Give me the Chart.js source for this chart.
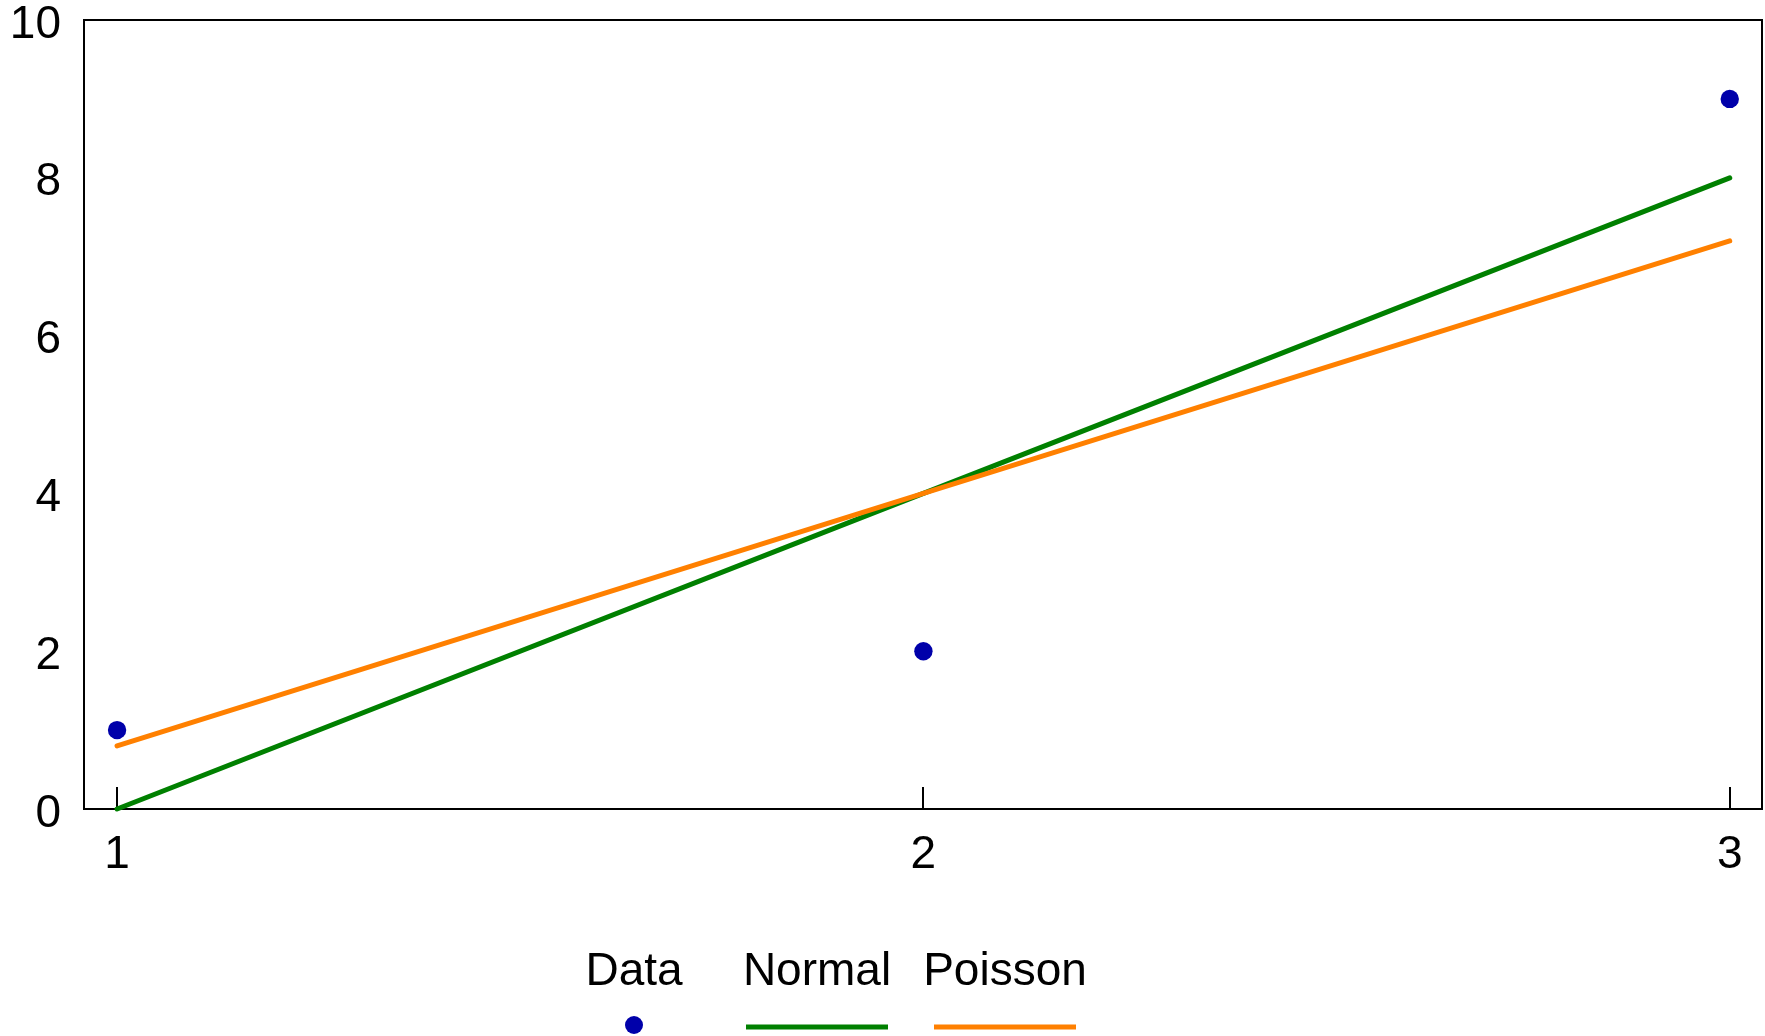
<!DOCTYPE html>
<html>
<head>
<meta charset="utf-8">
<script src="https://cdn.jsdelivr.net/npm/chart.js@4.4.1/dist/chart.umd.min.js"></script>
<style>
html, body { margin: 0; padding: 0; background: #fff; }
</style>
</head>
<body>
<canvas id="chart" width="1765" height="1036"></canvas>
<script>
const xValues = [1, 2, 3];
const dataY = [1, 2, 9];
const normalY = [0, 4, 8];
const poissonY = [0.8, 4, 7.2];
const xTicks = [1, 2, 3];
const yTicks = [0, 2, 4, 6, 8, 10];
const seriesNames = ["Data", "Normal", "Poisson"];
const seriesColors = ["#0000aa", "#008000", "#ff8000"];

const FONT_FAMILY = '"Liberation Sans", Arial, sans-serif';
const legendCenters = [634, 817, 1005];

function toPoints(ys) {
    return xValues.map((x, i) => ({ x: x, y: ys[i] }));
}

// box round the plot area and the inward x tick marks
const frame = {
    id: 'frame',
    beforeDatasetsDraw(chart) {
        const { ctx, chartArea: a } = chart;
        const xs = chart.scales.x;
        ctx.save();
        ctx.strokeStyle = '#000';
        ctx.lineWidth = 2;
        ctx.strokeRect(a.left, a.top, a.right - a.left, a.bottom - a.top);
        ctx.beginPath();
        xs.ticks.forEach(t => {
            const px = Math.round(xs.getPixelForValue(t.value));
            ctx.moveTo(px, a.bottom);
            ctx.lineTo(px, a.bottom - 22);
        });
        ctx.stroke();
        ctx.restore();
    }
};

// legend with the label on top and the marker under it
const bottomLegend = {
    id: 'bottomLegend',
    afterDraw(chart) {
        const ctx = chart.ctx;
        ctx.save();
        ctx.font = '46px ' + FONT_FAMILY;
        ctx.textAlign = 'center';
        ctx.textBaseline = 'alphabetic';
        chart.data.datasets.forEach((ds, i) => {
            const cx = legendCenters[i];
            ctx.fillStyle = '#000';
            ctx.fillText(ds.label, cx, 985);
            if (ds.showLine === false) {
                ctx.fillStyle = ds.pointBackgroundColor;
                ctx.beginPath();
                ctx.arc(cx, 1025, 9, 0, Math.PI * 2);
                ctx.fill();
            } else {
                ctx.strokeStyle = ds.borderColor;
                ctx.lineWidth = 5;
                ctx.beginPath();
                ctx.moveTo(cx - 71, 1027);
                ctx.lineTo(cx + 71, 1027);
                ctx.stroke();
            }
        });
        ctx.restore();
    }
};

const tickFont = { family: FONT_FAMILY, size: 46 };

new Chart(document.getElementById('chart').getContext('2d'), {
    type: 'scatter',
    data: {
        datasets: [
            {
                label: seriesNames[0],
                data: toPoints(dataY),
                showLine: false,
                pointRadius: 9.2,
                pointHoverRadius: 9.2,
                pointBorderWidth: 0,
                pointBackgroundColor: seriesColors[0],
                borderColor: seriesColors[0],
                clip: false,
                order: 0
            },
            {
                label: seriesNames[1],
                data: toPoints(normalY),
                showLine: true,
                pointRadius: 0,
                borderWidth: 5,
                borderColor: seriesColors[1],
                borderCapStyle: 'round',
                clip: false,
                order: 2
            },
            {
                label: seriesNames[2],
                data: toPoints(poissonY),
                showLine: true,
                pointRadius: 0,
                borderWidth: 5,
                borderColor: seriesColors[2],
                borderCapStyle: 'round',
                clip: false,
                order: 1
            }
        ]
    },
    options: {
        responsive: false,
        animation: false,
        layout: { autoPadding: false, padding: { top: 20, right: 3, left: 0, bottom: 0 } },
        plugins: {
            legend: { display: false },
            tooltip: { enabled: false }
        },
        scales: {
            x: {
                type: 'linear',
                min: 0.959,
                max: 3.04,
                afterBuildTicks: s => { s.ticks = xTicks.map(v => ({ value: v })); },
                grid: { display: false, drawTicks: false },
                border: { display: false },
                ticks: { color: '#000', font: tickFont, padding: 19, maxRotation: 0 },
                afterFit: s => { s.height = 227; s.paddingLeft = 0; s.paddingRight = 0; }
            },
            y: {
                type: 'linear',
                min: 0,
                max: 10,
                afterBuildTicks: s => { s.ticks = yTicks.map(v => ({ value: v })); },
                grid: { display: false, drawTicks: false },
                border: { display: false },
                ticks: { color: '#000', font: tickFont, padding: 23, labelOffset: 5 },
                afterFit: s => { s.width = 84; s.paddingTop = 0; s.paddingBottom = 0; }
            }
        }
    },
    plugins: [frame, bottomLegend]
});
</script>
</body>
</html>
